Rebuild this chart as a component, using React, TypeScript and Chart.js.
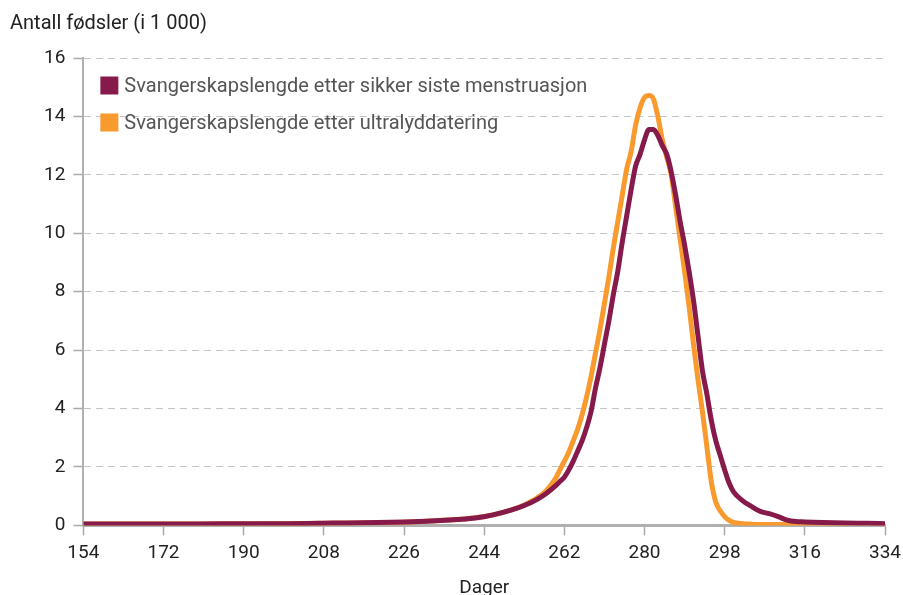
import React, { useEffect, useRef } from "react";
import { Chart, registerables } from "chart.js";

Chart.register(...registerables);

const days = [
  154, 160, 170, 180, 190, 200, 210, 220, 226, 232, 238, 242, 246, 250, 253, 256, 258,
  260, 261, 262, 263, 264, 265, 266, 267, 268, 269, 270, 271, 272, 273, 274, 275, 276, 277,
  278, 279, 280, 281, 282, 283, 284, 285, 286, 287, 288, 289, 290, 291, 292, 293, 294, 295,
  296, 297, 298, 299, 300, 302, 304, 306, 308, 310, 312, 314, 316, 320, 325, 330, 334,
];

const menstruation = [
  0.05, 0.05, 0.05, 0.05, 0.06, 0.06, 0.08, 0.1, 0.12, 0.15, 0.2, 0.25, 0.36, 0.52, 0.68, 0.9, 1.1,
  1.35, 1.5, 1.65, 1.9, 2.2, 2.55, 2.9, 3.35, 3.9, 4.7, 5.4, 6.2, 7.0, 7.9, 8.7, 9.7, 10.6, 11.5,
  12.3, 12.7, 13.2, 13.55, 13.55, 13.35, 13.0, 12.7, 12.1, 11.3, 10.4, 9.6, 8.7, 7.7, 6.5, 5.3, 4.5, 3.6,
  2.9, 2.4, 1.9, 1.45, 1.15, 0.85, 0.65, 0.48, 0.4, 0.3, 0.18, 0.13, 0.12, 0.1, 0.08, 0.07, 0.06,
];

const ultrasound = [
  0.05, 0.05, 0.05, 0.05, 0.05, 0.06, 0.07, 0.09, 0.11, 0.15, 0.2, 0.26, 0.36, 0.52, 0.7, 0.95, 1.2,
  1.6, 1.9, 2.2, 2.5, 2.9, 3.3, 3.8, 4.4, 5.1, 5.9, 6.7, 7.6, 8.5, 9.5, 10.4, 11.3, 12.2, 12.8,
  13.7, 14.3, 14.65, 14.72, 14.6, 14.0, 13.2, 12.6, 12.0, 10.9, 9.8, 8.7, 7.5, 6.2, 5.0, 3.9, 2.7, 1.5,
  0.8, 0.5, 0.3, 0.17, 0.1, 0.06, 0.04, 0.03, 0.03, 0.03, 0.03, 0.03, 0.03, 0.03, 0.03, 0.03, 0.03,
];

const seriesLabels = [
  "Svangerskapslengde etter sikker siste menstruasjon",
  "Svangerskapslengde etter ultralyddatering",
];
const seriesColors = ["#861a4b", "#f89a2e"];
const yTitle = "Antall fødsler (i 1 000)";
const xTitle = "Dager";

const FONT = "Roboto";

const overlayPlugin = {
  id: "overlay",
  afterDraw(chart: any) {
    const { ctx, chartArea } = chart;
    ctx.save();
    ctx.font = `20px ${FONT}`;
    ctx.fillStyle = "#222";
    ctx.textAlign = "left";
    ctx.textBaseline = "alphabetic";
    ctx.fillText(yTitle, 10, 29);

    chart.data.datasets.forEach((ds: any, i: number) => {
      const bx = chartArea.left + 17;
      const cy = chartArea.top + 27.5 + i * 37;
      ctx.fillStyle = ds.borderColor;
      ctx.fillRect(bx, cy - 9, 18, 18);
      ctx.fillStyle = "#555";
      ctx.font = `20px ${FONT}`;
      ctx.textBaseline = "middle";
      ctx.fillText(ds.label, bx + 24, cy + 1);
    });
    ctx.restore();
  },
};

export default function App() {
  const ref = useRef<HTMLCanvasElement>(null);
  useEffect(() => {
    const toPts = (vals: number[]) => days.map((d, i) => ({ x: d, y: vals[i] }));
    const chart = new Chart(ref.current!, {
      type: "line",
      data: {
        datasets: [
          {
            label: seriesLabels[0],
            data: toPts(menstruation),
            borderColor: seriesColors[0],
            backgroundColor: seriesColors[0],
            borderWidth: 5,
            pointRadius: 0,
            cubicInterpolationMode: "monotone",
          },
          {
            label: seriesLabels[1],
            data: toPts(ultrasound),
            borderColor: seriesColors[1],
            backgroundColor: seriesColors[1],
            borderWidth: 5,
            pointRadius: 0,
            cubicInterpolationMode: "monotone",
          },
        ],
      },
      options: {
        responsive: false,
        animation: false,
        devicePixelRatio: 1,
        layout: { padding: { top: 58, left: 36, right: 18, bottom: 0 } },
        plugins: {
          legend: { display: false },
          tooltip: { enabled: false },
          title: { display: false },
        },
        scales: {
          x: {
            type: "linear",
            min: 154,
            max: 334,
            afterFit: (s: any) => {
              s.paddingRight = 0;
            },
            ticks: {
              stepSize: 18,
              color: "#222",
              font: { family: FONT, size: 19 },
              padding: 6,
              maxRotation: 0,
            },
            grid: {
              drawOnChartArea: false,
              drawTicks: true,
              tickLength: 10,
              tickColor: "#aaa",
              tickWidth: 1.5,
            },
            border: { color: "#b0b0b0", width: 3 },
            title: {
              display: true,
              text: xTitle,
              color: "#222",
              font: { family: FONT, size: 19 },
              padding: { top: 7, bottom: 0 },
            },
          },
          y: {
            min: 0,
            max: 16,
            ticks: {
              stepSize: 2,
              color: "#222",
              font: { family: FONT, size: 19 },
              padding: 8,
            },
            grid: {
              color: (c: any) => (c.tick && c.tick.value === 0 ? "rgba(0,0,0,0)" : "#c4c4c4"),
              lineWidth: 1,
              drawTicks: true,
              tickLength: 10,
              tickColor: "#aaa",
              tickWidth: 1.5,
              tickBorderDash: [],
            },
            border: { color: "#b0b0b0", width: 2, dash: [7, 5] },
          },
        },
      },
      plugins: [overlayPlugin],
    });
    return () => chart.destroy();
  }, []);
  return (
    <div style={{ position: "fixed", left: 0, top: 0, width: 903, height: 600, background: "#fff" }}>
      <canvas ref={ref} width={903} height={600} />
    </div>
  );
}
